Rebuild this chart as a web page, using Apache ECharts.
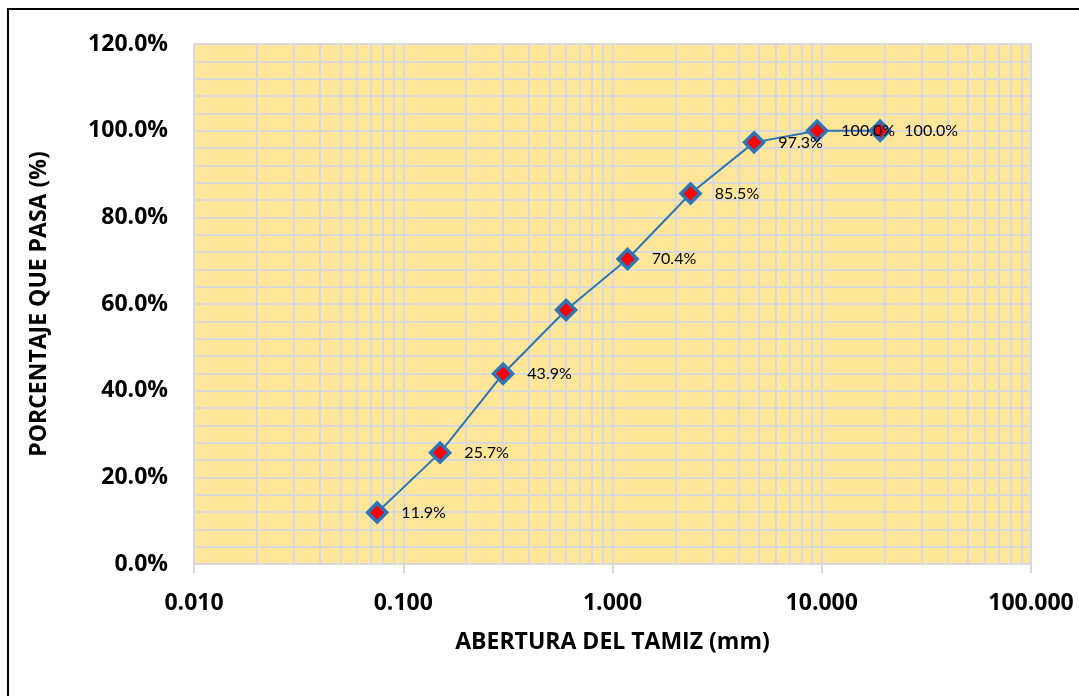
<!DOCTYPE html>
<html>
<head>
<meta charset="utf-8">
<script src="https://cdn.jsdelivr.net/npm/echarts@6/dist/echarts.min.js"></script>
<style>
html,body{margin:0;padding:0;background:#fff;}
#frame{position:absolute;left:7px;top:8px;width:1072px;height:688px;border-left:2px solid #000;border-top:2px solid #000;box-sizing:border-box;pointer-events:none;z-index:5;}
#chart{position:absolute;left:0;top:0;width:1079px;height:696px;}
</style>
</head>
<body>
<div id="chart"></div>
<div id="frame"></div>
<script>
// Sieve openings (mm) and percentage passing
const aberturas = [0.075, 0.15, 0.3, 0.6, 1.18, 2.36, 4.75, 9.5, 19.0];
const pasa = [11.9, 25.7, 43.9, 58.6, 70.4, 85.5, 97.3, 100.0, 100.0];
const showLabel = [true, true, true, false, true, true, true, true, true];
const xTickLabels = ['0.010', '0.100', '1.000', '10.000', '100.000'];
const yTicks = [0, 20, 40, 60, 80, 100, 120];

const FONT = '"Open Sans", "Liberation Sans", sans-serif';
const LFONT = 'Lato, "Liberation Sans", sans-serif';
const GRID = '#D9D9D9';

// minor log gridlines (2..9 within each decade)
const minorX = [];
[0.01, 0.1, 1, 10].forEach(d => { for (let k = 2; k <= 9; k++) minorX.push({ xAxis: +(d * k).toPrecision(6) }); });

const chart = echarts.init(document.getElementById('chart'), null, { renderer: 'canvas' });
chart.setOption({
  animation: false,
  backgroundColor: '#fff',
  grid: { left: 194, right: 48, top: 44, bottom: 132, show: true, backgroundColor: '#FFE699', borderColor: GRID, borderWidth: 2 },
  xAxis: {
    type: 'log', logBase: 10, min: 0.01, max: 100,
    name: 'ABERTURA DEL TAMIZ (mm)', nameLocation: 'middle', nameGap: 67,
    nameTextStyle: { fontFamily: FONT, fontWeight: 'bold', fontSize: 23, color: '#000' },
    axisLine: { show: true, lineStyle: { color: GRID, width: 2 } },
    axisTick: { show: true, length: 9, lineStyle: { color: GRID, width: 2 } },
    axisLabel: {
      margin: 28, fontFamily: FONT, fontWeight: 'bold', fontSize: 23, color: '#000',
      formatter: v => { const i = Math.round(Math.log10(v)) + 2; return xTickLabels[i] !== undefined ? xTickLabels[i] : v.toFixed(3); }
    },
    splitLine: { show: true, lineStyle: { color: GRID, width: 2 } }
  },
  yAxis: {
    type: 'value', min: yTicks[0], max: yTicks[yTicks.length - 1], interval: 20,
    name: 'PORCENTAJE QUE PASA (%)', nameLocation: 'middle', nameGap: 143, nameRotate: 90,
    nameTextStyle: { fontFamily: FONT, fontWeight: 'bold', fontSize: 23, color: '#000' },
    axisLine: { show: true, lineStyle: { color: GRID, width: 2 } },
    axisTick: { show: false },
    axisLabel: { margin: 26, fontFamily: FONT, fontWeight: 'bold', fontSize: 23, color: '#000', formatter: v => v.toFixed(1) + '%' },
    splitLine: { show: true, lineStyle: { color: GRID, width: 2 } },
    minorTick: { show: false, splitNumber: 5 },
    minorSplitLine: { show: true, lineStyle: { color: GRID, width: 2 } }
  },
  series: [
    {
      type: 'line', data: [], z: 1, silent: true,
      markLine: { silent: true, z: 1, symbol: 'none', label: { show: false }, animation: false,
        lineStyle: { color: GRID, width: 2, type: 'solid' }, data: minorX }
    },
    {
      type: 'line', z: 3,
      data: aberturas.map((x, i) => ({ value: [x, pasa[i]], label: { show: showLabel[i] } })),
      lineStyle: { color: '#2E75B6', width: 2 },
      symbol: 'diamond', symbolSize: 19,
      itemStyle: { color: '#FF0000', borderColor: '#2E75B6', borderWidth: 3.5 },
      label: { show: true, position: 'right', distance: 13, fontFamily: LFONT, fontSize: 16, color: '#000',
        formatter: p => p.value[1].toFixed(1) + '%' }
    }
  ]
});
</script>
</body>
</html>
